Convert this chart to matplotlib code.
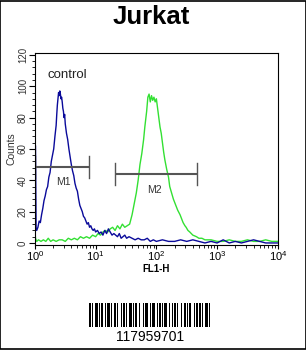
import numpy as np
import matplotlib
matplotlib.use("Agg")
import matplotlib.pyplot as plt
from matplotlib.patches import Rectangle
from matplotlib.ticker import MultipleLocator, LogLocator, NullFormatter

plt.rcParams['font.family'] = ['Liberation Sans', 'DejaVu Sans']

# control histogram (log10 of FL1-H, counts)
ctrl_log = [0.00, 0.01, 0.02, 0.03, 0.05, 0.07, 0.09, 0.11, 0.13, 0.15, 0.17, 0.19, 0.21, 0.23, 0.25,
            0.27, 0.29, 0.31, 0.33, 0.35, 0.36, 0.37, 0.38, 0.39, 0.40, 0.41, 0.42, 0.43, 0.44, 0.45,
            0.46, 0.47, 0.48, 0.49, 0.50, 0.52, 0.54, 0.56, 0.58, 0.60, 0.62, 0.64, 0.66, 0.68, 0.70,
            0.72, 0.74, 0.76, 0.78, 0.80, 0.82, 0.84, 0.86, 0.88, 0.90, 0.92, 0.94, 0.96, 0.98, 1.00,
            1.03, 1.06, 1.09, 1.12, 1.15, 1.18, 1.21, 1.24, 1.27, 1.30, 1.33, 1.36, 1.39, 1.42, 1.45,
            1.48, 1.51, 1.55, 1.60, 1.65, 1.70, 1.75, 1.80, 1.85, 1.90, 1.95, 2.00, 2.10, 2.20, 2.30,
            2.40, 2.50, 2.60, 2.70, 2.80, 2.90, 3.00, 3.10, 3.20, 3.30, 3.40, 3.50, 3.60, 3.70, 3.80,
            3.90, 4.00]
ctrl_cnt = [63, 62, 10, 8, 10, 14, 13, 18, 22, 27, 30, 34, 36, 42, 45,
            52, 56, 60, 68, 75, 82, 88, 92, 96, 94, 97, 95, 92, 93, 90,
            86, 84, 80, 82, 76, 70, 66, 60, 55, 50, 46, 43, 38, 35, 33,
            28, 24, 22, 20, 17, 16, 14, 12, 13, 10, 11, 9, 8, 9, 7,
            8, 6, 7, 5, 8, 6, 9, 7, 5, 6, 5, 4, 6, 3, 4,
            5, 3, 4, 3, 2, 3, 2, 2, 3, 1, 2, 1, 2, 1, 1,
            2, 1, 2, 1, 0, 1, 0, 2, 0, 1, 0, 1, 2, 1, 0,
            0, 0]

# stained sample histogram
samp_log = [0.00, 0.01, 0.03, 0.06, 0.10, 0.14, 0.18, 0.22, 0.26, 0.30, 0.35, 0.40, 0.45, 0.50, 0.55,
            0.60, 0.65, 0.70, 0.75, 0.80, 0.85, 0.90, 0.95, 1.00, 1.04, 1.08, 1.12, 1.16, 1.20, 1.24,
            1.28, 1.32, 1.36, 1.40, 1.44, 1.48, 1.52, 1.56, 1.60, 1.63, 1.67, 1.70, 1.73, 1.76, 1.79,
            1.81, 1.84, 1.86, 1.88, 1.90, 1.92, 1.94, 1.96, 1.98, 2.00, 2.02, 2.04, 2.06, 2.08, 2.10,
            2.12, 2.14, 2.17, 2.20, 2.22, 2.25, 2.28, 2.30, 2.33, 2.35, 2.39, 2.42, 2.44, 2.47, 2.49,
            2.52, 2.55, 2.60, 2.66, 2.70, 2.75, 2.80, 2.90, 3.00, 3.10, 3.20, 3.30, 3.40, 3.50, 3.60,
            3.70, 3.80, 3.90, 4.00]
samp_cnt = [8, 3, 1, 2, 1, 2, 1, 3, 1, 2, 1, 2, 2, 1, 3,
            2, 3, 2, 4, 3, 4, 3, 5, 4, 6, 5, 7, 8, 7, 9,
            10, 8, 11, 9, 12, 10, 11, 12, 18, 24, 32, 40, 50, 57, 66,
            74, 84, 93, 95, 90, 94, 91, 93, 90, 92, 86, 80, 74, 70, 64,
            58, 53, 47, 42, 36, 32, 28, 26, 23, 21, 18, 15, 13, 11, 10,
            8, 7, 5, 4, 3, 3, 2, 2, 1, 1, 2, 1, 1, 2, 1,
            1, 2, 1, 1]

# markers: (start, end, height, label, label x, label y)
m1 = (1.0, 7.8, 48.6, 'M1', 3.0, 39)
m2 = (20.8, 470.0, 44.0, 'M2', 94.0, 34)

# barcode module widths (bar, space, bar, ...)
barcode = [2, 1, 1, 2, 3, 1, 1, 1, 2, 2, 1, 1, 3, 1, 1, 2, 2, 1, 1, 3, 1, 1, 2, 1, 1, 2, 3, 1,
           1, 1, 2, 2, 1, 3, 1, 1, 2, 1, 1, 2, 1, 1, 3, 2, 1, 1, 2, 1, 1, 1, 3, 2, 1, 2, 1, 1,
           2, 1, 1, 3, 1, 2, 2, 1, 1, 1, 2, 3, 1, 1, 2, 1, 2, 1, 1, 2, 3, 1, 1]
barcode_text = '117959701'

fig = plt.figure(figsize=(3.06, 3.5), dpi=100)
ax = fig.add_axes([0.114, 0.30, 0.794, 0.549])

ax.plot(10 ** np.array(samp_log), samp_cnt, color='#33e033', lw=1.0)
ax.plot(10 ** np.array(ctrl_log), ctrl_cnt, color='#0a0a9a', lw=1.0)

for x0, x1, yy, lab, lx, ly in (m1, m2):
    ax.plot([x0, x1], [yy, yy], color='#555555', lw=1.5, solid_capstyle='butt')
    ax.plot([x0, x0], [yy - 7, yy + 7], color='#555555', lw=1.0)
    ax.plot([x1, x1], [yy - 7, yy + 7], color='#555555', lw=1.0)
    ax.text(lx, ly, lab, ha='center', va='center', fontsize=7.5, color='#333333')

ax.text(1.62, 107, 'control', ha='left', va='center', fontsize=9.5, color='#222222')

ax.set_xscale('log')
ax.set_xlim(1, 1e4)
ax.set_ylim(-1.3, 121.3)
ax.yaxis.set_major_locator(MultipleLocator(20))
ax.yaxis.set_minor_locator(MultipleLocator(4))
ax.xaxis.set_major_locator(LogLocator(base=10))
ax.xaxis.set_minor_locator(LogLocator(base=10, subs=np.arange(2, 10)))
ax.xaxis.set_minor_formatter(NullFormatter())
ax.tick_params(axis='y', which='major', length=4, width=0.8, labelsize=7, labelcolor='#333333', pad=1)
ax.tick_params(axis='y', which='minor', length=2, width=0.6)
ax.tick_params(axis='x', which='major', length=3, width=0.8, labelsize=8, pad=0)
ax.tick_params(axis='x', which='minor', length=2, width=0.6)
for t in ax.get_yticklabels():
    t.set_rotation(90)
    t.set_va('center')
ax.set_ylabel('Counts', fontsize=7.5, color='#333333', labelpad=1)
ax.set_xlabel('FL1-H', fontsize=7, fontweight='bold', labelpad=0.5)
fig.text(0.495, 0.952, 'Jurkat', ha='center', va='center', fontsize=18.5, fontweight='bold')

# barcode
bax = fig.add_axes([0.291, 0.066, 0.395, 0.069])
pos = 0
for i, w in enumerate(barcode):
    if i % 2 == 0:
        bax.bar(pos, 1, width=w, align='edge', color='black', linewidth=0)
    pos += w
bax.set_xlim(0, pos)
bax.set_ylim(0, 1)
bax.axis('off')
fig.text(0.49, 0.037, barcode_text, ha='center', va='center', fontsize=10)

fig.patches.append(Rectangle((0.0015, 0.0015), 0.997, 0.997, transform=fig.transFigure,
                             fill=False, edgecolor='black', lw=1.2))

fig.savefig('out.png', dpi=100)
